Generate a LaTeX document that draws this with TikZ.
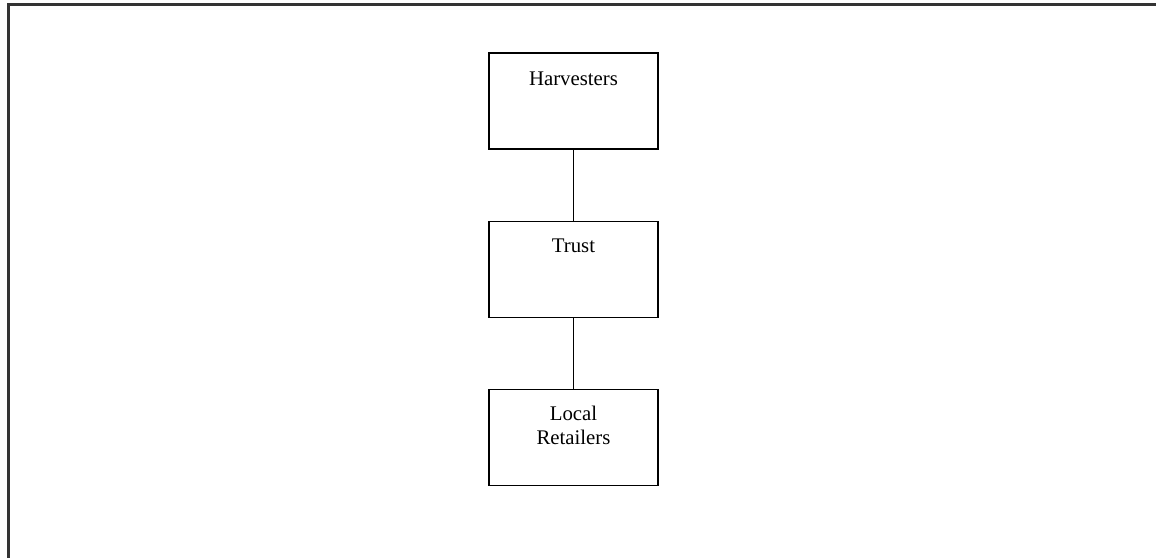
\documentclass[tikz,border=0pt]{standalone}
\usepackage{fontspec}
\setmainfont{Liberation Serif}
\begin{document}
\begin{tikzpicture}[x=1pt,y=-1pt,
  box/.style={draw=black, line width=1.4pt, minimum width=169pt, minimum height=96pt, inner sep=0pt},
  lbl/.style={font=\fontsize{20.8}{24}\selectfont, anchor=base, inner sep=0pt},
  link/.style={draw=black, line width=1.4pt}]
\useasboundingbox (0,0) rectangle (1156,557);
\fill[white] (0,0) rectangle (1156,557);
% outer frame (cropped)
\coordinate (fl) at (8.5,4.5);
\coordinate (fr) at (1160,4.5);
\coordinate (fb) at (8.5,562);
\draw[line width=2.2pt, black!80] (fr) -- (fl) -- (fb);
% boxes
\node[box] (harv) at (573.5,101) {};
\node[box] (trust) at (573.5,269.5) {};
\node[box] (ret) at (573.5,437.5) {};
% texts
\node[lbl] (harvt) at (573.5,85) {Harvesters};
\node[lbl] (trustt) at (573.5,252) {Trust};
\node[lbl] (rett1) at (573.5,420) {Local};
\node[lbl] (rett2) at (573.5,444) {Retailers};
% connectors
\draw[link] (harv.south) -- (trust.north);
\draw[link] (trust.south) -- (ret.north);
\end{tikzpicture}
\end{document}
